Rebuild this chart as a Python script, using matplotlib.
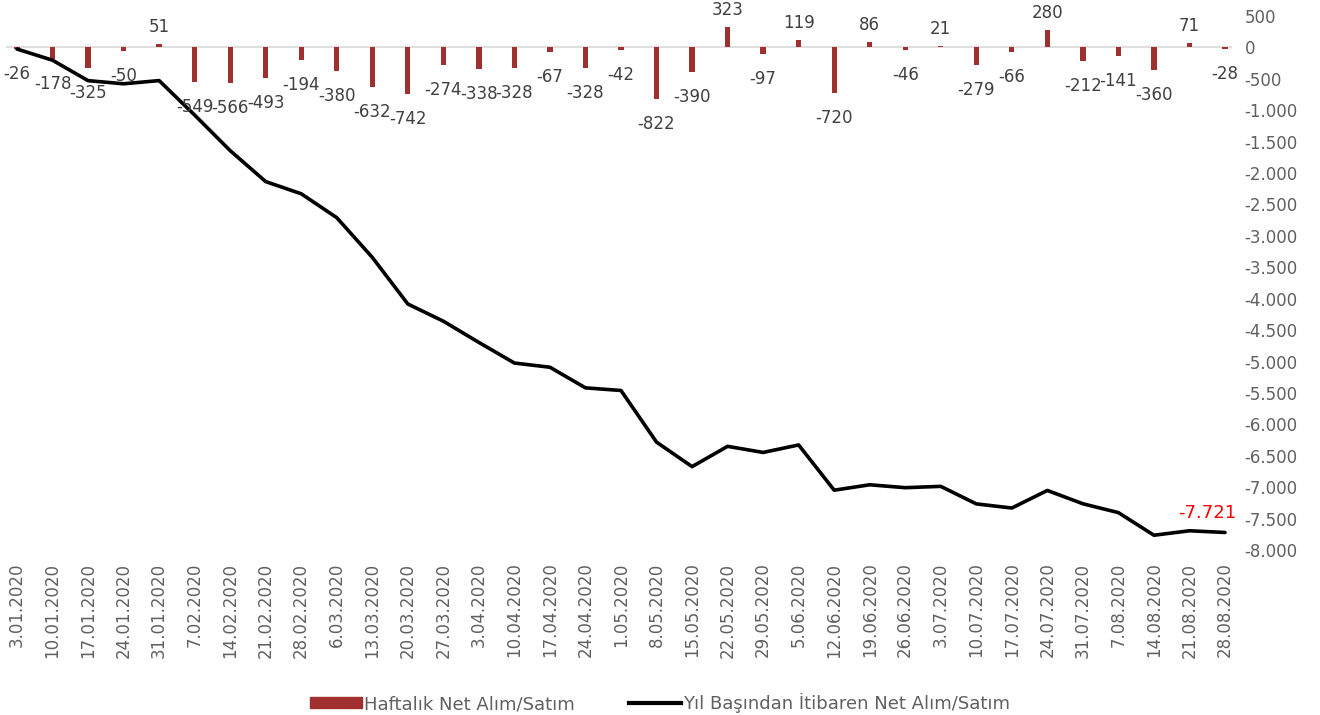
import matplotlib
matplotlib.use("Agg")
import matplotlib.pyplot as plt
from matplotlib.ticker import FuncFormatter, MultipleLocator
from matplotlib.lines import Line2D
from matplotlib.patches import Patch

dates = ["3.01.2020", "10.01.2020", "17.01.2020", "24.01.2020", "31.01.2020",
         "7.02.2020", "14.02.2020", "21.02.2020", "28.02.2020",
         "6.03.2020", "13.03.2020", "20.03.2020", "27.03.2020",
         "3.04.2020", "10.04.2020", "17.04.2020", "24.04.2020",
         "1.05.2020", "8.05.2020", "15.05.2020", "22.05.2020", "29.05.2020",
         "5.06.2020", "12.06.2020", "19.06.2020", "26.06.2020",
         "3.07.2020", "10.07.2020", "17.07.2020", "24.07.2020", "31.07.2020",
         "7.08.2020", "14.08.2020", "21.08.2020", "28.08.2020"]

weekly = [-26, -178, -325, -50, 51, -549, -566, -493, -194, -380, -632, -742,
          -274, -338, -328, -67, -328, -42, -822, -390, 323, -97, 119, -720,
          86, -46, 21, -279, -66, 280, -212, -141, -360, 71, -28]

cumulative = [-26, -204, -529, -579, -528, -1077, -1643, -2136, -2330, -2710,
              -3342, -4084, -4358, -4696, -5024, -5091, -5419, -5461, -6283,
              -6673, -6350, -6447, -6328, -7048, -6962, -7008, -6987, -7266,
              -7332, -7052, -7264, -7405, -7765, -7694, -7721]

bar_color = "#A0302F"
text_color = "#606060"

W, H = 1320, 715
fig = plt.figure(figsize=(W / 100, H / 100), dpi=100)
step = (1225 - 17) / 34
left_px = 17 - 0.3 * step
right_px = 1225 + 0.2 * step
ax = fig.add_axes([left_px / W, 1 - 550 / H, (right_px - left_px) / W, (550 - 16) / H])

x = list(range(len(dates)))
ax.axhline(0, color="#D9D9D9", lw=1.2, zorder=0)
ax.bar(x, weekly, width=0.15, color=bar_color, zorder=2)
ax.plot(x, cumulative, color="black", lw=2.6, zorder=3, solid_capstyle="round")

ax.set_xlim(-0.3, 34.2)
ax.set_ylim(-8000, 500)

for xi, v in zip(x, weekly):
    if v >= 0:
        ax.annotate(f"{v}", (xi, v), xytext=(0, 8), textcoords="offset pixels",
                    ha="center", va="bottom", fontsize=12, color="#404040",
                    annotation_clip=False)
    else:
        ax.annotate(f"{v}", (xi, v), xytext=(0, -16), textcoords="offset pixels",
                    ha="center", va="top", fontsize=12, color="#404040")

last = cumulative[-1]
ax.annotate(f"{last:,}".replace(",", "."), (x[-1], last), xytext=(-18, 10),
            textcoords="offset pixels", ha="center", va="bottom",
            fontsize=13, color="red")

ax.yaxis.tick_right()
ax.yaxis.set_major_locator(MultipleLocator(500))
ax.yaxis.set_major_formatter(FuncFormatter(lambda v, p: f"{int(v):,}".replace(",", ".")))
ax.tick_params(axis="y", length=0, pad=9, labelsize=12, labelcolor=text_color)
for lbl in ax.get_yticklabels():
    lbl.set_horizontalalignment("left")

ax.set_xticks(x)
ax.set_xticklabels(dates, rotation=90, fontsize=12, color=text_color)
ax.tick_params(axis="x", length=0, pad=9)

for s in ax.spines.values():
    s.set_visible(False)

handles = [Patch(facecolor=bar_color, edgecolor=bar_color),
           Line2D([0], [0], color="black", lw=3)]
labels = ["Haftalık Net Alım/Satım", "Yıl Başından İtibaren Net Alım/Satım"]
fig.legend(handles, labels, loc="center", bbox_to_anchor=(0.5, 1 - 703 / H),
           ncol=2, frameon=False, fontsize=13, labelcolor=text_color,
           handlelength=2.9, handleheight=0.55, handletextpad=0.1, columnspacing=3.0)

fig.savefig("out.png", dpi=100)
